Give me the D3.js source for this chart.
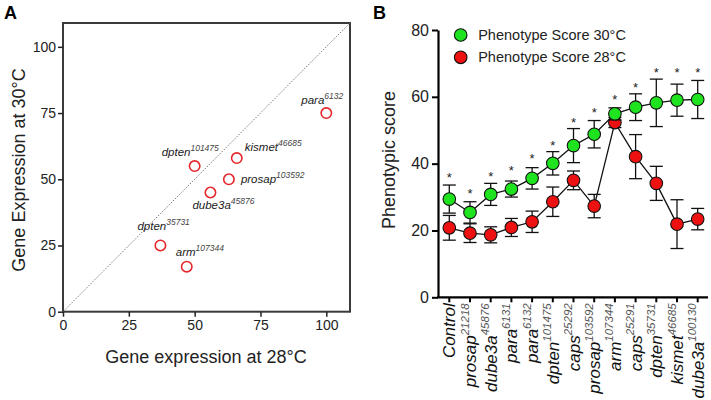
<!DOCTYPE html>
<html>
<head>
<meta charset="utf-8">
<script src="https://cdn.jsdelivr.net/npm/d3@7"></script>
<style>
  html, body { margin: 0; padding: 0; background: #fff; }
  svg { display: block; font-family: "Liberation Sans", Arial, sans-serif; }
</style>
</head>
<body>
<svg id="chart" width="711" height="400"></svg>
<script>
// ---------- Panel A data ----------
const scatterGenes   = ["para", "dpten", "kismet", "prosap", "dube3a", "dpten", "arm"];
const scatterAlleles = ["6132", "101475", "46685", "103592", "45876", "35731", "107344"];
const expr28 = [100, 50, 66, 63, 56, 37, 47];
const expr30 = [75, 55, 58, 50, 45, 25, 17];
const scatterTicks = [0, 25, 50, 75, 100];

// ---------- Panel B data ----------
const geneNames = ["Control", "prosap", "dube3a", "para", "para", "dpten", "caps", "prosap", "arm", "caps", "dpten", "kismet", "dube3a"];
const alleleIds = ["", "21218", "45876", "6131", "6132", "101475", "25292", "103592", "107344", "25291", "35731", "46685", "100130"];
const score30 = [29.4, 25.4, 30.8, 32.4, 35.6, 40.1, 45.4, 48.8, 54.9, 56.9, 58.2, 59.0, 59.2];
const err30   = [4.2, 3.2, 3.3, 2.4, 3.2, 3.5, 5.1, 4.1, 1.8, 4.0, 7.1, 4.8, 5.7];
const score28 = [20.8, 19.2, 18.7, 20.9, 22.6, 28.6, 35.0, 27.3, 52.3, 42.1, 34.1, 21.9, 23.4];
const err28   = [3.7, 2.8, 2.4, 2.7, 3.2, 4.4, 2.8, 3.5, 1.5, 6.6, 5.1, 7.3, 3.2];
const starLevel = [36.9, 31.9, 37.1, 38.8, 42.4, 46.4, 53.1, 56.3, 60.2, 63.8, 68.2, 68.2, 68.2];
const scoreTicks = [0, 20, 40, 60, 80];
const seriesNames = ["Phenotype Score 30\u00B0C", "Phenotype Score 28\u00B0C"];

// ---------- layout (not data) ----------
const labelOffsetA = [[-25, -9], [-33, -10], [8, -7], [12, 4], [-18, 16], [-23, -15], [-11, -11]];
const GREEN = "#1ee31e", RED = "#ee1111", CIRC = "#e5262a";

const svg = d3.select("#chart");

// ===================== Panel A =====================
const xA = d3.scaleLinear().domain([0, 109]).range([63, 350]);
const yA = d3.scaleLinear().domain([0, 109]).range([311.7, 23]);
const gA = svg.append("g");

svg.append("text").attr("x", 4).attr("y", 19).attr("font-size", 18).attr("font-weight", "bold").text("A");

// frame
gA.append("rect").attr("x", xA(0)).attr("y", yA(109)).attr("width", xA(109) - xA(0)).attr("height", yA(0) - yA(109))
  .attr("fill", "none").attr("stroke", "#3a3a3a").attr("stroke-width", 2);

// diagonal
gA.append("line").attr("x1", xA(0)).attr("y1", yA(0)).attr("x2", xA(109)).attr("y2", yA(109))
  .attr("stroke", "#777").attr("stroke-width", 1).attr("stroke-dasharray", "1.5,1.5");

const axAx = gA.append("g").attr("transform", `translate(0,${yA(0)})`)
  .call(d3.axisBottom(xA).tickValues(scatterTicks).tickSize(5).tickPadding(3));
const axAy = gA.append("g").attr("transform", `translate(${xA(0)},0)`)
  .call(d3.axisLeft(yA).tickValues(scatterTicks).tickSize(5).tickPadding(2));
[axAx, axAy].forEach(a => {
  a.select(".domain").remove();
  a.selectAll(".tick line").attr("stroke", "#222").attr("stroke-width", 1.5);
  a.selectAll(".tick text").attr("font-size", 14).attr("fill", "#222")
    .attr("font-family", "Liberation Sans, Arial, sans-serif");
});

gA.append("text").attr("x", 206).attr("y", 363).attr("text-anchor", "middle").attr("font-size", 18).attr("fill", "#222")
  .text("Gene expression at 28\u00B0C");
gA.append("text").attr("transform", "translate(25,170) rotate(-90)").attr("text-anchor", "middle").attr("font-size", 18).attr("fill", "#222")
  .text("Gene Expression at 30\u00B0C");

// points
gA.selectAll("circle.pt").data(expr28).join("circle").attr("class", "pt")
  .attr("cx", (d) => xA(d)).attr("cy", (d, i) => yA(expr30[i])).attr("r", 5.2)
  .attr("fill", "none").attr("stroke", CIRC).attr("stroke-width", 1.6);

const lblA = gA.selectAll("text.lbl").data(scatterGenes).join("text").attr("class", "lbl")
  .attr("x", (d, i) => xA(expr28[i]) + labelOffsetA[i][0])
  .attr("y", (d, i) => yA(expr30[i]) + labelOffsetA[i][1])
  .attr("font-size", 11.5).attr("font-style", "italic").attr("fill", "#222");
lblA.append("tspan").text(d => d);
lblA.append("tspan").attr("dy", -5).attr("font-size", 8.5).attr("fill", "#444").text((d, i) => scatterAlleles[i]);

// ===================== Panel B =====================
svg.append("text").attr("x", 373).attr("y", 19).attr("font-size", 18).attr("font-weight", "bold").text("B");

const idx = d3.range(geneNames.length);
const xB = d3.scalePoint().domain(idx).range([449.3, 697.7]);
const yB = d3.scaleLinear().domain([0, 80]).range([297.3, 30]);
const gB = svg.append("g");

// axes
const axBy = gB.append("g").attr("transform", "translate(438,0)")
  .call(d3.axisLeft(yB).tickValues(scoreTicks).tickSize(6).tickPadding(3).tickSizeOuter(0));
axBy.select(".domain").attr("stroke", "#000").attr("stroke-width", 2.2);
axBy.selectAll(".tick line").attr("stroke", "#000").attr("stroke-width", 2);
axBy.selectAll(".tick text").attr("font-size", 16).attr("fill", "#222").attr("font-family", "Liberation Sans, Arial, sans-serif");

gB.append("line").attr("x1", 437).attr("x2", 708).attr("y1", yB(0)).attr("y2", yB(0)).attr("stroke", "#000").attr("stroke-width", 2.2);
gB.selectAll("line.xt").data(idx).join("line").attr("class", "xt")
  .attr("x1", d => xB(d)).attr("x2", d => xB(d)).attr("y1", yB(0)).attr("y2", yB(0) + 5)
  .attr("stroke", "#000").attr("stroke-width", 2);

const xl = gB.selectAll("text.xl").data(idx).join("text").attr("class", "xl")
  .attr("transform", d => `translate(${xB(d)},${yB(0) + 6}) rotate(-90)`)
  .attr("y", 6).attr("text-anchor", "end").attr("font-size", 17).attr("font-style", "italic").attr("fill", "#111");
xl.append("tspan").text(d => geneNames[d]);
xl.append("tspan").attr("dy", -7.5).attr("font-size", 11.5).attr("fill", "#555").text(d => alleleIds[d]);

gB.append("text").attr("transform", "translate(395,160) rotate(-90)").attr("text-anchor", "middle")
  .attr("font-size", 18).attr("fill", "#222").text("Phenotypic score");

function drawSeries(vals, errs, color) {
  const g = gB.append("g");
  const line = d3.line().x((d, i) => xB(i)).y(d => yB(d));
  g.append("path").datum(vals).attr("d", line).attr("fill", "none").attr("stroke", "#111").attr("stroke-width", 1.3);
  const eb = g.selectAll("g.eb").data(vals).join("g").attr("class", "eb");
  eb.append("line").attr("x1", (d, i) => xB(i)).attr("x2", (d, i) => xB(i))
    .attr("y1", (d, i) => yB(d + errs[i])).attr("y2", (d, i) => yB(d - errs[i]))
    .attr("stroke", "#111").attr("stroke-width", 1.3);
  [1, -1].forEach(s => {
    eb.append("line").attr("x1", (d, i) => xB(i) - 6.5).attr("x2", (d, i) => xB(i) + 6.5)
      .attr("y1", (d, i) => yB(d + s * errs[i])).attr("y2", (d, i) => yB(d + s * errs[i]))
      .attr("stroke", "#111").attr("stroke-width", 1.3);
  });
  g.selectAll("circle").data(vals).join("circle")
    .attr("cx", (d, i) => xB(i)).attr("cy", d => yB(d)).attr("r", 6.3)
    .attr("fill", color).attr("stroke", "#111").attr("stroke-width", 1.1);
}
drawSeries(score28, err28, RED);
drawSeries(score30, err30, GREEN);

// significance stars
gB.selectAll("text.star").data(starLevel).join("text").attr("class", "star")
  .attr("x", (d, i) => xB(i)).attr("y", d => yB(d) + 7.5).attr("text-anchor", "middle")
  .attr("font-size", 13).attr("fill", "#222").text("*");

// legend
const legColors = [GREEN, RED];
const leg = gB.selectAll("g.leg").data(seriesNames).join("g").attr("class", "leg")
  .attr("transform", (d, i) => `translate(460.7,${35 + i * 22.3})`);
leg.append("circle").attr("r", 6.3).attr("fill", (d, i) => legColors[i]).attr("stroke", "#111").attr("stroke-width", 1.1);
leg.append("text").attr("x", 17.5).attr("y", 5).attr("font-size", 14.5).attr("fill", "#222").text(d => d);
</script>
</body>
</html>
